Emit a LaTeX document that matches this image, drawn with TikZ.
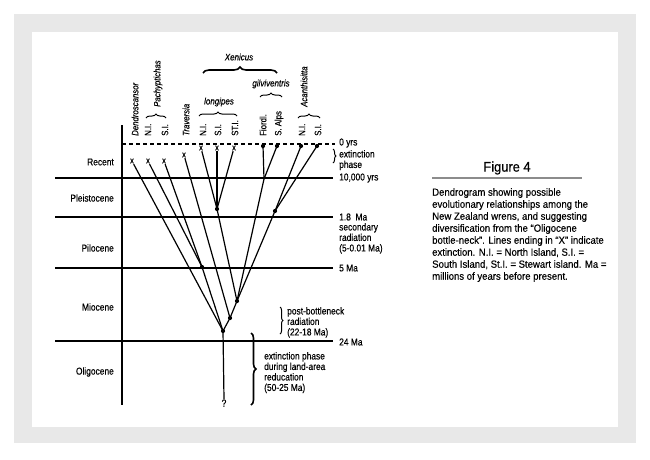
\documentclass[tikz,border=0pt]{standalone}
\usepackage{fontspec}
\setmainfont{Liberation Sans}[FakeStretch=0.84, FakeBold=0.25]
\newfontfamily\capfont{Liberation Sans}[FakeStretch=0.92, FakeBold=0.25]
\usetikzlibrary{decorations.pathreplacing}
\definecolor{framegray}{HTML}{E8E8E8}
\definecolor{rulegray}{HTML}{8C8C8C}
\begin{document}
\begin{tikzpicture}[x=1pt,y=-1pt,
  lbl/.style={inner sep=0pt, font=\fontsize{10}{10.5}\selectfont},
  rot/.style={inner sep=0pt, font=\fontsize{9.3}{10}\selectfont, rotate=90, anchor=west},
  irot/.style={inner sep=0pt, font=\fontsize{9.3}{10}\selectfont\itshape, rotate=90, anchor=west},
  ilbl/.style={inner sep=0pt, font=\fontsize{9.5}{10}\selectfont\itshape},
  tipx/.style={inner sep=0.6pt, font=\fontsize{9}{9}\selectfont},
  dotn/.style={circle, fill=black, inner sep=0pt, minimum size=4.2pt},
  tree/.style={line width=1.2pt},
  era/.style={line width=1.1pt},
  brc/.style={decorate, decoration={brace, amplitude=4pt}, line width=1pt},
]
\useasboundingbox (0,0) rectangle (650,459);
% frame
\fill[framegray] (14,14) rectangle (636,443);
\fill[white] (32,32) rectangle (618,427);

% axis and era lines
\draw[era] (122,125) -- (122,405);
\draw[era, dash pattern=on 4pt off 3pt] (122,144) -- (335,144);
\draw[era] (55,178) -- (333,178);
\draw[era] (55,217) -- (333,217);
\draw[era] (55,268) -- (333,268);
\draw[era] (55,341) -- (333,341);

% era labels
\node[lbl, anchor=east] (rec) at (114,162) {Recent};
\node[lbl, anchor=east] (ple) at (114,198) {Pleistocene};
\node[lbl, anchor=east] (pli) at (114,248) {Pilocene};
\node[lbl, anchor=east] (mio) at (114,307) {Miocene};
\node[lbl, anchor=east] (oli) at (114,372) {Oligocene};

% right time labels
\node[lbl, anchor=west] (t0) at (339,143) {0 yrs};
\draw[brc, decoration={brace, amplitude=3pt}] (333,149) -- (333,163);
\node[lbl, anchor=north west, align=left] (ext) at (339,150) {extinction\\phase};
\node[lbl, anchor=west] (t1) at (339,178) {10,000 yrs};
\node[lbl, anchor=west] (t2) at (339,217) {1.8~~Ma};
\node[lbl, anchor=north west, align=left] (sec) at (339,223) {secondary\\radiation\\(5-0.01 Ma)};
\node[lbl, anchor=west] (t3) at (339,268) {5 Ma};
\node[lbl, anchor=west] (t4) at (339,342) {24 Ma};
\draw[brc, decoration={brace, amplitude=3pt}] (280,307) -- (280,334);
\node[lbl, anchor=north west, align=left] (pbn) at (287,307) {post-bottleneck\\radiation\\(22-18 Ma)};
\draw[brc, line width=1.6pt, decoration={brace, amplitude=5pt}] (251,333) -- (251,405);
\node[lbl, anchor=north west, align=left] (exl) at (264,352) {extinction phase\\during land-area\\reducation\\(50-25 Ma)};

% taxon labels
\node[irot] (lD) at (135,136) {Dendroscansor};
\node[irot] (lP) at (158,107) {Pachyptichas};
\draw[brc] (146,118) -- (166,118);
\node[rot] (lPN) at (148,136) {N.I.};
\node[rot] (lPS) at (165,136) {S.I.};
\node[irot] (lT) at (186,136) {Traversia};
\node[ilbl] (lX) at (239,57) {Xenicus};
\draw[brc, line width=1.6pt, decoration={brace, amplitude=6pt}] (203,73) -- (277,73);
\node[ilbl] (lL) at (219,102) {longipes};
\draw[brc] (199,116) -- (237,116);
\node[rot] (lLN) at (203,136) {N.I.};
\node[rot] (lLS) at (218,136) {S.I.};
\node[rot] (lLT) at (235,136) {ST.I.};
\node[ilbl] (lG) at (271,84) {gilviventris};
\draw[brc] (260,97) -- (282,97);
\node[rot] (lGF) at (263,136) {Fiordl.};
\node[rot] (lGS) at (279,136) {S. Alps};
\node[irot] (lA) at (304,107) {Acanthisitta};
\draw[brc] (298,118) -- (320,118);
\node[rot] (lAN) at (302,136) {N.I.};
\node[rot] (lAS) at (318,136) {S.I.};

% tips
\node[tipx] (D) at (132,161) {x};
\node[tipx] (PN) at (148,161) {x};
\node[tipx] (PS) at (164,161) {x};
\node[tipx] (T) at (184,155) {x};
\node[tipx] (LN) at (201,148) {x};
\node[tipx] (LS) at (217,148) {x};
\node[tipx] (LT) at (234,148) {x};
\node[dotn] (GF) at (263,146) {};
\node[dotn] (GS) at (277,146) {};
\node[dotn] (AN) at (301,146) {};
\node[dotn] (AS) at (317,146) {};

% internal nodes
\node[dotn] (L) at (217,209) {};
\node[dotn] (A) at (275,211) {};
\coordinate (G) at (264,179);
\node[dotn] (P) at (202,267) {};
\node[dotn] (n3) at (237,301) {};
\node[dotn] (n2) at (230,318) {};
\node[dotn] (root) at (223,331) {};
\node[lbl] (q) at (224,403) {?};

% branches
\draw[tree] (L.center) -- (LN);
\draw[tree] (L.center) -- (LS);
\draw[tree] (L.center) -- (LT);
\draw[tree] (G) -- (GF.center);
\draw[tree] (G) -- (GS.center);
\draw[tree] (A.center) -- (AN.center);
\draw[tree] (A.center) -- (AS.center);
\draw[tree] (P.center) -- (PN);
\draw[tree] (P.center) -- (PS);
\draw[tree] (root.center) -- (D);
\draw[tree] (root.center) -- (P.center);
\draw[tree] (root.center) -- (n2.center) -- (n3.center) -- (A.center);
\draw[tree] (n2.center) -- (T);
\draw[tree] (n3.center) -- (L.center);
\draw[tree] (n3.center) -- (G);
\draw[tree] (root.center) -- (q.north);

% caption
\node[inner sep=0pt, font=\capfont\fontsize{14}{15}\selectfont] (fig) at (507,168) {Figure 4};
\draw[rulegray, line width=1.6pt] (432,178) -- (582,178);
\node[anchor=north west, align=left, inner sep=0pt, font=\capfont\fontsize{10.4}{12}\selectfont] (cap) at (432,188)
{Dendrogram showing possible\\
evolutionary relationships among the\\
New Zealand wrens, and suggesting\\
diversification from the “Oligocene\\
bottle-neck”. Lines ending in “X” indicate\\
extinction. N.I. = North Island, S.I. =\\
South Island, St.I. = Stewart island. Ma =\\
millions of years before present.};
\end{tikzpicture}
\end{document}
